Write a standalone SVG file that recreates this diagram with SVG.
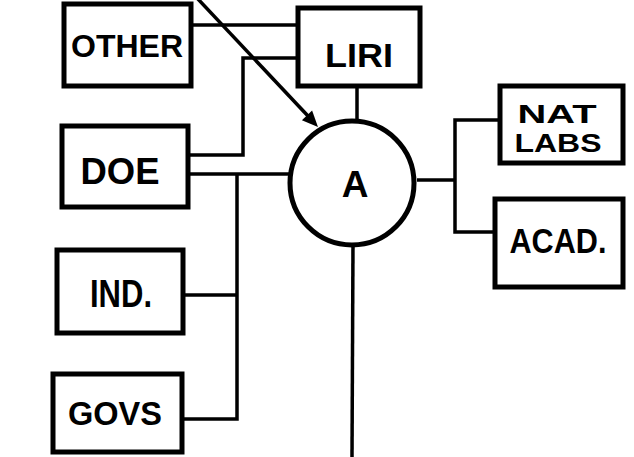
<svg xmlns="http://www.w3.org/2000/svg" width="634" height="457" viewBox="0 0 634 457">
<style>
.box{fill:#fff;stroke:#000;stroke-width:5}
.ln{fill:none;stroke:#000;stroke-width:3.5}
.t{font-family:"Liberation Sans",Arial,sans-serif;font-weight:bold;fill:#000;text-anchor:middle}
</style>
<g id="connectors">
<line class="ln" x1="191" y1="25" x2="298" y2="25"/>
<polyline class="ln" points="298,58 243,58 243,155 188,155"/>
<line class="ln" x1="188" y1="174" x2="290" y2="174"/>
<polyline class="ln" points="237,174 237,419 182,419"/>
<line class="ln" x1="183" y1="295" x2="237" y2="295"/>
<line class="ln" x1="357" y1="86" x2="357" y2="122"/>
<line class="ln" x1="353" y1="244" x2="352" y2="457"/>
<line class="ln" x1="417" y1="180" x2="455" y2="180"/>
<polyline class="ln" points="500,120 455,120 455,232 495,232"/>
<line class="ln" x1="197" y1="-2" x2="308" y2="116"/>
<polygon points="318,127 301.9,120.2 312.1,110.6" fill="#000"/>
</g>
<g id="other"><rect class="box" x="64" y="4" width="127" height="82"/><text class="t" x="127" y="57" font-size="32" textLength="112" lengthAdjust="spacingAndGlyphs">OTHER</text></g>
<g id="doe"><rect class="box" x="62" y="126" width="126" height="81"/><text class="t" x="120" y="184" font-size="37" textLength="79" lengthAdjust="spacingAndGlyphs">DOE</text></g>
<g id="ind"><rect class="box" x="57" y="250" width="126" height="83"/><text class="t" x="121" y="307" font-size="38" textLength="62" lengthAdjust="spacingAndGlyphs">IND.</text></g>
<g id="govs"><rect class="box" x="53" y="374" width="129" height="78"/><text class="t" x="115" y="425" font-size="34" textLength="94" lengthAdjust="spacingAndGlyphs">GOVS</text></g>
<g id="liri"><rect class="box" x="298" y="8" width="122" height="78"/><text class="t" x="359" y="67" font-size="33" textLength="68" lengthAdjust="spacingAndGlyphs">LIRI</text></g>
<g id="a"><circle cx="352" cy="183" r="62" fill="#fff" stroke="#000" stroke-width="5"/><text class="t" x="355" y="197" font-size="37">A</text></g>
<g id="natlabs"><rect class="box" x="500" y="86" width="123" height="77"/><text class="t" x="557" y="123" font-size="26" textLength="79" lengthAdjust="spacingAndGlyphs">NAT</text><text class="t" x="558" y="152" font-size="26" textLength="87" lengthAdjust="spacingAndGlyphs">LABS</text></g>
<g id="acad"><rect class="box" x="495" y="199" width="128" height="88"/><text class="t" x="558" y="253" font-size="35" textLength="97" lengthAdjust="spacingAndGlyphs">ACAD.</text></g>
</svg>
